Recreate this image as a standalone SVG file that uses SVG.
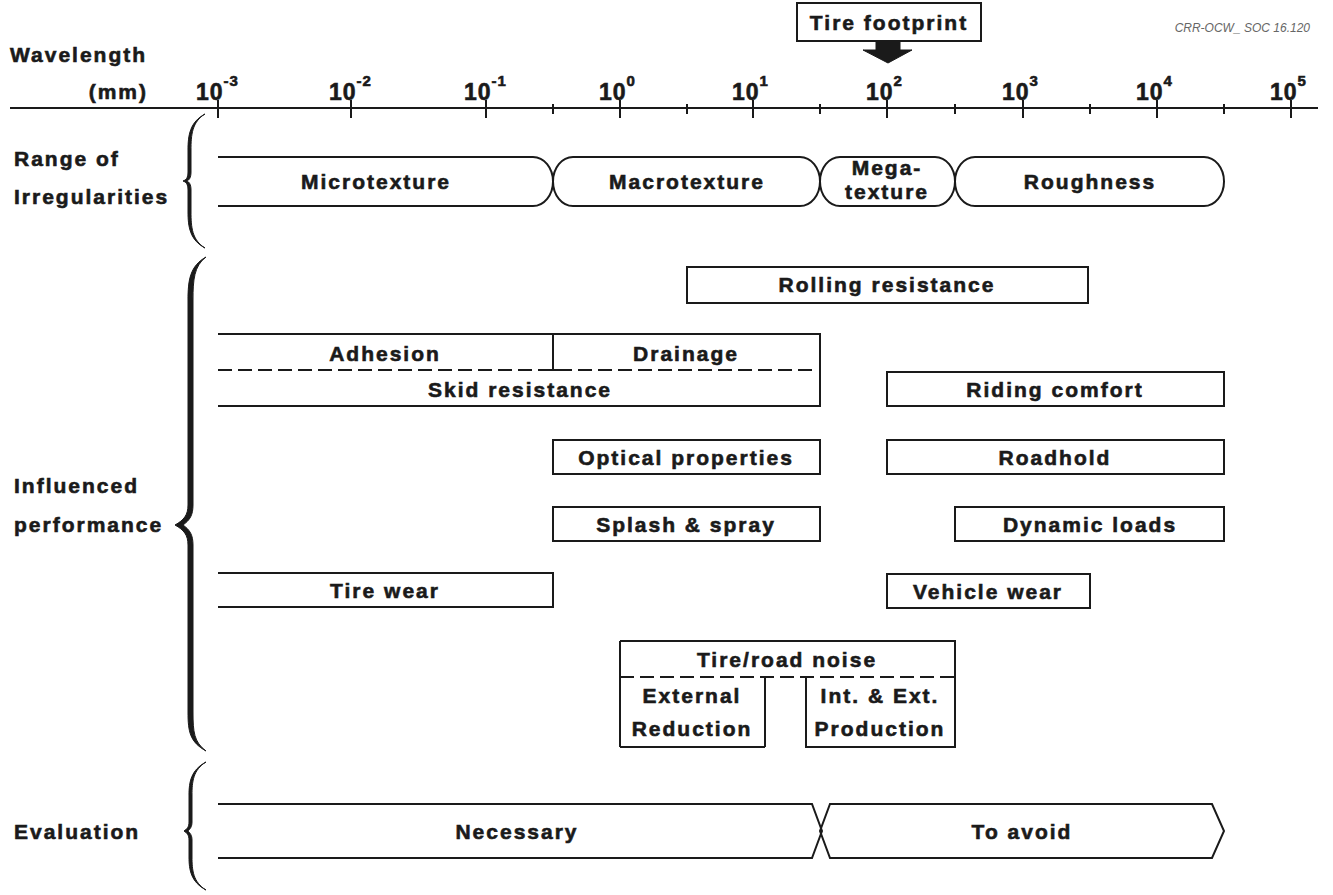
<svg xmlns="http://www.w3.org/2000/svg" width="1333" height="895" viewBox="0 0 1333 895">
<style>
.t{font-family:"Liberation Sans",Arial,sans-serif;font-weight:bold;font-size:21px;fill:#1a1a1a;stroke:#1a1a1a;stroke-width:0.6px;letter-spacing:2px}
.c{text-anchor:middle}
.ax{font-family:"Liberation Sans",Arial,sans-serif;font-weight:bold;font-size:23px;fill:#1a1a1a;stroke:#1a1a1a;stroke-width:0.6px;letter-spacing:1px}
.sup{font-size:15px}
.b{fill:none;stroke:#1a1a1a;stroke-width:2}
.d{fill:none;stroke:#1a1a1a;stroke-width:2;stroke-dasharray:14,6}
.br{fill:#1a1a1a;stroke:#1a1a1a;stroke-width:1}
</style>
<rect width="1333" height="895" fill="#fff"/>
<g id="axis">
<text class="t" x="10" y="62">Wavelength</text>
<text class="t" x="148" y="99" text-anchor="end">(mm)</text>
<line class="b" x1="10" y1="108" x2="1318" y2="108"/>
<path class="b" d="M218,100V118M351,100V118M486,100V118M620,100V118M753,100V118M887,100V118M1023,100V118M1157,100V118M1291,100V118M553,104V114M687,104V114M820,104V114M955,104V114M1090,104V114M1224,104V114"/>
<text class="ax" x="196" y="100">10<tspan class="sup" dy="-14">-3</tspan></text>
<text class="ax" x="329" y="100">10<tspan class="sup" dy="-14">-2</tspan></text>
<text class="ax" x="464" y="100">10<tspan class="sup" dy="-14">-1</tspan></text>
<text class="ax" x="599" y="100">10<tspan class="sup" dy="-14">0</tspan></text>
<text class="ax" x="732" y="100">10<tspan class="sup" dy="-14">1</tspan></text>
<text class="ax" x="866" y="100">10<tspan class="sup" dy="-14">2</tspan></text>
<text class="ax" x="1002" y="100">10<tspan class="sup" dy="-14">3</tspan></text>
<text class="ax" x="1136" y="100">10<tspan class="sup" dy="-14">4</tspan></text>
<text class="ax" x="1270" y="100">10<tspan class="sup" dy="-14">5</tspan></text>
<text x="1310" y="32" text-anchor="end" font-family="Liberation Sans,Arial,sans-serif" font-style="italic" font-size="12" fill="#666">CRR-OCW_ SOC 16.120</text>
</g>
<g id="tire-footprint">
<rect class="b" x="797" y="3" width="184" height="38"/>
<text class="t c" x="889" y="30" font-size="18">Tire footprint</text>
<path class="br" d="M876,41H900V50H912L888,63L863,50H876Z"/>
</g>
<g id="braces">
<path class="br" d="M205,114C190,122 188,135 188,150V172C188,178 186,180 183,181C186,182 188,184 188,190V212C188,227 190,240 205,248C192,240 191,227 191,212V190C191,184 189,182 187,181C189,180 191,178 191,172V150C191,135 192,122 205,114Z"/>
<path class="br" d="M206,257C190,266 188,280 188,300V505C188,515 184,520 175,525C184,530 188,535 188,545V712C188,732 190,742 206,751C194,742 193,732 193,712V545C193,535 190,530 183,525C190,520 193,515 193,505V300C193,280 194,266 206,257Z"/>
<path class="br" d="M206,762C191,770 189,782 189,795V822C189,827 187,829 184,831C187,833 189,835 189,840V857C189,870 191,882 206,890C193,882 192,870 192,857V840C192,835 190,833 188,831C190,829 192,827 192,822V795C192,782 193,770 206,762Z"/>
</g>
<g id="labels">
<text class="t" x="14" y="166">Range of</text>
<text class="t" x="14" y="204">Irregularities</text>
<text class="t" x="14" y="493">Influenced</text>
<text class="t" x="14" y="532">performance</text>
<text class="t" x="14" y="839">Evaluation</text>
</g>
<g id="microtexture">
<path class="b" d="M218,157H533A20,24.5 0 0 1 533,206H218"/>
<text class="t c" x="376" y="189">Microtexture</text>
</g>
<g id="macrotexture">
<path class="b" d="M573,157H800A20,24.5 0 0 1 800,206H573A20,24.5 0 0 1 573,157Z"/>
<text class="t c" x="687" y="189">Macrotexture</text>
</g>
<g id="megatexture">
<path class="b" d="M840,157H935A20,24.5 0 0 1 935,206H840A20,24.5 0 0 1 840,157Z"/>
<text class="t c" x="887" y="175" font-size="18" letter-spacing="1">Mega-</text>
<text class="t c" x="887" y="199" font-size="18" letter-spacing="1">texture</text>
</g>
<g id="roughness">
<path class="b" d="M975,157H1204A20,24.5 0 0 1 1204,206H975A20,24.5 0 0 1 975,157Z"/>
<text class="t c" x="1090" y="189">Roughness</text>
</g>
<g id="rolling-resistance">
<rect class="b" x="687" y="267" width="401" height="36"/>
<text class="t c" x="887" y="292">Rolling resistance</text>
</g>
<g id="skid-resistance">
<path class="b" d="M218,334H820V406H218"/>
<line class="d" x1="218" y1="370" x2="818" y2="370"/>
<path class="b" d="M553,334V370M543,370H565"/>
<text class="t c" x="385" y="361">Adhesion</text>
<text class="t c" x="686" y="361">Drainage</text>
<text class="t c" x="520" y="397">Skid resistance</text>
</g>
<g id="riding-comfort">
<rect class="b" x="887" y="372" width="337" height="34"/>
<text class="t c" x="1055" y="397">Riding comfort</text>
</g>
<g id="optical-properties">
<rect class="b" x="553" y="440" width="267" height="34"/>
<text class="t c" x="686" y="465">Optical properties</text>
</g>
<g id="roadhold">
<rect class="b" x="887" y="440" width="337" height="34"/>
<text class="t c" x="1055" y="465">Roadhold</text>
</g>
<g id="splash-spray">
<rect class="b" x="553" y="507" width="267" height="34"/>
<text class="t c" x="686" y="532">Splash &amp; spray</text>
</g>
<g id="dynamic-loads">
<rect class="b" x="955" y="507" width="269" height="34"/>
<text class="t c" x="1090" y="532">Dynamic loads</text>
</g>
<g id="tire-wear">
<path class="b" d="M218,573H553V607H218"/>
<text class="t c" x="385" y="598">Tire wear</text>
</g>
<g id="vehicle-wear">
<rect class="b" x="887" y="574" width="203" height="34"/>
<text class="t c" x="988" y="599">Vehicle wear</text>
</g>
<g id="tire-road-noise">
<path class="b" d="M765,747V677M620,747H765M620,641H955V747H806V677M620,641V747"/>
<line class="d" x1="620" y1="677" x2="955" y2="677"/>
<text class="t c" x="787" y="667">Tire/road noise</text>
<text class="t c" x="692" y="703">External</text>
<text class="t c" x="692" y="736">Reduction</text>
<text class="t c" x="880" y="703">Int. &amp; Ext.</text>
<text class="t c" x="880" y="736">Production</text>
</g>
<g id="necessary">
<path class="b" d="M218,804H812L822,831L812,858H218"/>
<text class="t c" x="517" y="839">Necessary</text>
</g>
<g id="to-avoid">
<path class="b" d="M830,804H1212L1224,831L1212,858H830L820,831Z"/>
<text class="t c" x="1022" y="839">To avoid</text>
</g>
</svg>
